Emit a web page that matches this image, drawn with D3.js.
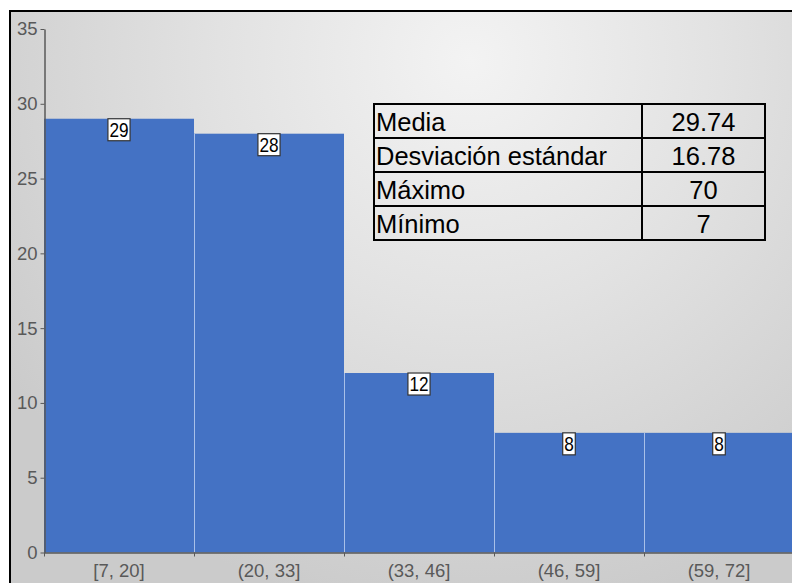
<!DOCTYPE html>
<html>
<head>
<meta charset="utf-8">
<script src="https://cdn.jsdelivr.net/npm/d3@7"></script>
<style>
  html, body { margin: 0; padding: 0; background: #ffffff; }
  svg { display: block; font-family: Arial, "Liberation Sans", sans-serif; }
</style>
</head>
<body>
<svg id="chart" width="792" height="583"></svg>
<script>
// Histogram bins and counts
const binLabels = ["[7, 20]", "(20, 33]", "(33, 46]", "(46, 59]", "(59, 72]"];
const binEdges = [7, 20, 33, 46, 59, 72];
const counts = [29, 28, 12, 8, 8];
const yTicks = [0, 5, 10, 15, 20, 25, 30, 35];

// Summary statistics table
const statNames = ["Media", "Desviación estándar", "Máximo", "Mínimo"];
const statValues = ["29.74", "16.78", "70", "7"];

const svg = d3.select("#chart");

// Background gradient
const defs = svg.append("defs");
const grad = defs.append("radialGradient")
  .attr("id", "bg")
  .attr("gradientUnits", "userSpaceOnUse")
  .attr("cx", 470).attr("cy", 60).attr("r", 560);
grad.append("stop").attr("offset", "0%").attr("stop-color", "#f3f3f3");
grad.append("stop").attr("offset", "45%").attr("stop-color", "#e2e2e2");
grad.append("stop").attr("offset", "100%").attr("stop-color", "#cbcbcb");

svg.append("rect")
  .attr("x", 10).attr("y", 11).attr("width", 800).attr("height", 600)
  .attr("fill", "url(#bg)")
  .attr("stroke", "#000").attr("stroke-width", 2);

const x = d3.scaleLinear().domain([7, 72]).range([44, 794]);
const y = d3.scaleLinear().domain([0, 35]).range([552.5, 29]);

// Bars
const bins = counts.map((c, i) => ({ x0: binEdges[i], x1: binEdges[i + 1], count: c, label: binLabels[i] }));

svg.append("g").selectAll("rect")
  .data(bins)
  .join("rect")
  .attr("x", d => x(d.x0))
  .attr("y", d => y(d.count))
  .attr("width", d => x(d.x1) - x(d.x0))
  .attr("height", d => y(0) - y(d.count))
  .attr("fill", "#4472c4");

// Light separators between adjacent bars
svg.append("g").selectAll("line")
  .data(bins.slice(1))
  .join("line")
  .attr("x1", d => x(d.x0) + 0.5).attr("x2", d => x(d.x0) + 0.5)
  .attr("y1", (d, i) => y(Math.min(d.count, bins[i].count)))
  .attr("y2", y(0))
  .attr("stroke", "#a9c0e8").attr("stroke-width", 1);

// Y axis
const yAxis = svg.append("g")
  .attr("transform", "translate(44.5,0)")
  .call(d3.axisLeft(y).tickValues(yTicks).tickSize(4).tickPadding(3).tickSizeOuter(0));
yAxis.select(".domain").attr("stroke", "#595959").attr("stroke-width", 1.5);
yAxis.selectAll(".tick line").attr("stroke", "#595959");
yAxis.selectAll(".tick text")
  .attr("fill", "#595959").style("font-size", "18.5px").style("font-family", "Arial, 'Liberation Sans', sans-serif");

// X axis with ticks at bin edges and labels at bin centres
const xAxis = svg.append("g")
  .attr("transform", `translate(0,${y(0)})`)
  .call(d3.axisBottom(x).tickValues(binEdges).tickSize(4).tickFormat("").tickSizeOuter(0));
xAxis.select(".domain").attr("stroke", "#595959").attr("stroke-width", 1.5);
xAxis.selectAll(".tick line").attr("stroke", "#595959");

svg.append("g").selectAll("text")
  .data(bins)
  .join("text")
  .attr("x", d => x((d.x0 + d.x1) / 2))
  .attr("y", 577)
  .attr("text-anchor", "middle")
  .attr("fill", "#595959")
  .style("font-size", "18.5px")
  .text(d => d.label);

// Boxed value labels at the top of each bar (tall, narrow digits)
const lab = svg.append("g").selectAll("g")
  .data(bins)
  .join("g")
  .attr("transform", d => `translate(${x((d.x0 + d.x1) / 2)},${y(d.count)})`);
lab.append("text")
  .attr("text-anchor", "middle")
  .attr("transform", "translate(0,18) scale(0.82,1)")
  .attr("fill", "#000")
  .style("font-size", "21px")
  .text(d => d.count);
lab.each(function () {
  const g = d3.select(this);
  const bb = g.select("text").node().getBBox();
  const w = bb.width * 0.82 + 3;
  g.insert("rect", "text")
    .attr("x", -w / 2).attr("y", 0)
    .attr("width", w).attr("height", 22)
    .attr("fill", "#fff").attr("stroke", "#333").attr("stroke-width", 1.2);
});

// Statistics table
const tX = 374, tY = 104, col1 = 268, col2 = 123, rowH = 34;
const table = svg.append("g");
statNames.forEach((name, i) => {
  table.append("text")
    .attr("x", tX + 2).attr("y", tY + i * rowH + 27)
    .attr("fill", "#000").style("font-size", "25.5px")
    .text(name);
  table.append("text")
    .attr("x", tX + col1 + col2 / 2).attr("y", tY + i * rowH + 27)
    .attr("text-anchor", "middle")
    .attr("fill", "#000").style("font-size", "25.5px")
    .text(statValues[i]);
});
for (let i = 1; i < statNames.length; i++) {
  table.append("line")
    .attr("x1", tX).attr("x2", tX + col1 + col2)
    .attr("y1", tY + i * rowH).attr("y2", tY + i * rowH)
    .attr("stroke", "#000").attr("stroke-width", 2);
}
table.append("line")
  .attr("x1", tX + col1).attr("x2", tX + col1)
  .attr("y1", tY).attr("y2", tY + rowH * statNames.length)
  .attr("stroke", "#000").attr("stroke-width", 2);
table.append("rect")
  .attr("x", tX).attr("y", tY)
  .attr("width", col1 + col2).attr("height", rowH * statNames.length)
  .attr("fill", "none").attr("stroke", "#000").attr("stroke-width", 2);
</script>
</body>
</html>
